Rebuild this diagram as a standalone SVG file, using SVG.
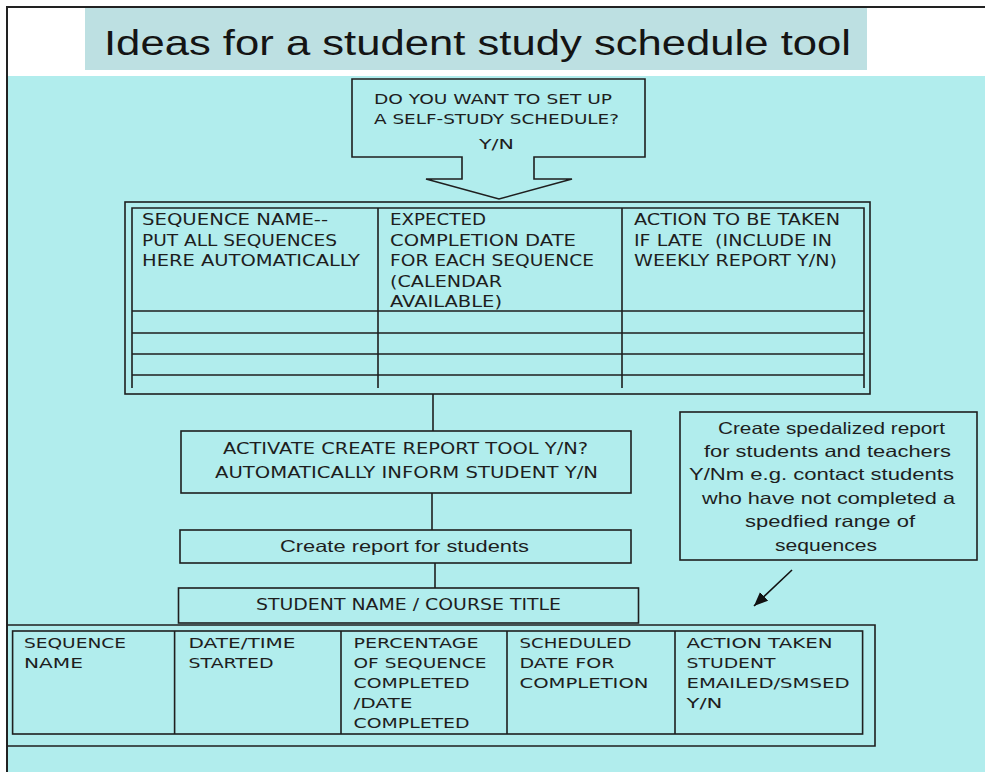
<svg xmlns="http://www.w3.org/2000/svg" width="985" height="772" viewBox="0 0 985 772">
<defs>
<style>
.ln{fill:none;stroke:#1f1f1f;stroke-width:1.6}
.bx{fill:none;stroke:#1f1f1f;stroke-width:1.6}
.cg{font-family:"DejaVu Sans","Liberation Sans",sans-serif;font-size:15px;fill:#1e1e1e}
.sm{font-size:14px}
.bt{font-size:14.5px}
.cb{font-family:"Liberation Sans","Open Sans",sans-serif;font-size:16.5px;fill:#1e1e1e}
.ttl{font-family:"Liberation Sans","Open Sans",sans-serif;font-size:35px;fill:#141414}
</style>
<marker id="ah" markerUnits="userSpaceOnUse" markerWidth="16" markerHeight="14" refX="14" refY="6" orient="auto">
<path d="M0,0 L14,6 L0,12 Z" fill="#111"/>
</marker>
</defs>
<rect x="0" y="0" width="985" height="772" fill="#ffffff"/>
<rect x="7" y="76" width="978" height="696" fill="#b1eded"/>
<path d="M7,772 V7 H985" fill="none" stroke="#222" stroke-width="2"/>
<g id="title">
<rect x="85" y="8" width="782" height="62" fill="#bde0e2"/>
<text class="ttl" x="104" y="55" textLength="747" lengthAdjust="spacingAndGlyphs">Ideas for a student study schedule tool</text>
</g>
<g id="connectors">
<line class="ln" x1="433" y1="394" x2="433" y2="431"/>
<line class="ln" x1="432" y1="493" x2="432" y2="530"/>
<line class="ln" x1="435" y1="563" x2="435" y2="588"/>
<line x1="792" y1="570" x2="754" y2="606" stroke="#111" stroke-width="1.6" marker-end="url(#ah)"/>
</g>
<g id="setup-question">
<path class="bx" d="M352,79 H645 V157 H534 V179 H572 L499,199 L426,179 H462 V157 H352 Z"/>
<text class="cg sm" x="374" y="104" textLength="238" lengthAdjust="spacingAndGlyphs">DO YOU WANT TO SET UP</text>
<text class="cg sm" x="374" y="124" textLength="245" lengthAdjust="spacingAndGlyphs">A SELF-STUDY SCHEDULE?</text>
<text class="cg sm" x="479" y="149" textLength="35" lengthAdjust="spacingAndGlyphs">Y/N</text>
</g>
<g id="sequence-table">
<rect class="bx" x="125" y="202" width="745" height="192"/>
<path class="bx" d="M132,388 V208 H864 V388 M378,208 V388 M622,208 V388 M132,311 H864 M132,333 H864 M132,354 H864 M132,375 H864"/>
<text class="cg" x="142" y="225" textLength="186" lengthAdjust="spacingAndGlyphs">SEQUENCE NAME--</text>
<text class="cg" x="142" y="245.5" textLength="195" lengthAdjust="spacingAndGlyphs">PUT ALL SEQUENCES</text>
<text class="cg" x="142" y="266" textLength="218" lengthAdjust="spacingAndGlyphs">HERE AUTOMATICALLY</text>
<text class="cg" x="390" y="225" textLength="96" lengthAdjust="spacingAndGlyphs">EXPECTED</text>
<text class="cg" x="390" y="245.5" textLength="186" lengthAdjust="spacingAndGlyphs">COMPLETION DATE</text>
<text class="cg" x="390" y="266" textLength="204" lengthAdjust="spacingAndGlyphs">FOR EACH SEQUENCE</text>
<text class="cg" x="390" y="286.5" textLength="112" lengthAdjust="spacingAndGlyphs">(CALENDAR</text>
<text class="cg" x="390" y="307" textLength="112" lengthAdjust="spacingAndGlyphs">AVAILABLE)</text>
<text class="cg" x="634" y="225" textLength="206" lengthAdjust="spacingAndGlyphs">ACTION TO BE TAKEN</text>
<text class="cg" x="634" y="245.5" textLength="198" lengthAdjust="spacingAndGlyphs" xml:space="preserve">IF LATE  (INCLUDE IN</text>
<text class="cg" x="634" y="266" textLength="203" lengthAdjust="spacingAndGlyphs">WEEKLY REPORT Y/N)</text>
</g>
<g id="activate-report">
<rect class="bx" x="181" y="431" width="450" height="62"/>
<text class="cg" x="223" y="454" textLength="365" lengthAdjust="spacingAndGlyphs">ACTIVATE CREATE REPORT TOOL Y/N?</text>
<text class="cg" x="215" y="478" textLength="383" lengthAdjust="spacingAndGlyphs">AUTOMATICALLY INFORM STUDENT Y/N</text>
</g>
<g id="create-report">
<rect class="bx" x="180" y="530" width="451" height="33"/>
<text class="cb" x="280" y="552" textLength="249" lengthAdjust="spacingAndGlyphs">Create report for students</text>
</g>
<g id="student-name">
<rect class="bx" x="178.5" y="588" width="460" height="35"/>
<text class="cg" x="256" y="609.5" textLength="305" lengthAdjust="spacingAndGlyphs">STUDENT NAME / COURSE TITLE</text>
</g>
<g id="specialized-report">
<rect class="bx" x="680" y="412" width="297" height="148"/>
<text class="cb" x="718" y="434" textLength="227" lengthAdjust="spacingAndGlyphs">Create spedalized report</text>
<text class="cb" x="704" y="457" textLength="247" lengthAdjust="spacingAndGlyphs">for students and teachers</text>
<text class="cb" x="689" y="480" textLength="265" lengthAdjust="spacingAndGlyphs">Y/Nm e.g. contact students</text>
<text class="cb" x="702" y="504" textLength="253" lengthAdjust="spacingAndGlyphs">who have not completed a</text>
<text class="cb" x="745" y="527" textLength="170" lengthAdjust="spacingAndGlyphs">spedfied range of</text>
<text class="cb" x="775" y="551" textLength="102" lengthAdjust="spacingAndGlyphs">sequences</text>
</g>
<g id="progress-table">
<path class="bx" d="M7.5,625 H875 V746 H7.5"/>
<rect class="bx" x="12.6" y="631" width="850" height="103"/>
<path class="bx" d="M174.6,631 V734 M341,631 V734 M507,631 V734 M675,631 V734"/>
<text class="cg bt" x="24" y="648" textLength="102" lengthAdjust="spacingAndGlyphs">SEQUENCE</text>
<text class="cg bt" x="24" y="668" textLength="59" lengthAdjust="spacingAndGlyphs">NAME</text>
<text class="cg bt" x="188.5" y="648" textLength="107" lengthAdjust="spacingAndGlyphs">DATE/TIME</text>
<text class="cg bt" x="188.5" y="668" textLength="85" lengthAdjust="spacingAndGlyphs">STARTED</text>
<text class="cg bt" x="353.5" y="648" textLength="125" lengthAdjust="spacingAndGlyphs">PERCENTAGE</text>
<text class="cg bt" x="353.5" y="668" textLength="133" lengthAdjust="spacingAndGlyphs">OF SEQUENCE</text>
<text class="cg bt" x="353.5" y="688" textLength="116" lengthAdjust="spacingAndGlyphs">COMPLETED</text>
<text class="cg bt" x="353.5" y="708" textLength="59" lengthAdjust="spacingAndGlyphs">/DATE</text>
<text class="cg bt" x="353.5" y="728" textLength="116" lengthAdjust="spacingAndGlyphs">COMPLETED</text>
<text class="cg bt" x="519.5" y="648" textLength="112" lengthAdjust="spacingAndGlyphs">SCHEDULED</text>
<text class="cg bt" x="519.5" y="668" textLength="95" lengthAdjust="spacingAndGlyphs">DATE FOR</text>
<text class="cg bt" x="519.5" y="688" textLength="129" lengthAdjust="spacingAndGlyphs">COMPLETION</text>
<text class="cg bt" x="686.5" y="648" textLength="146" lengthAdjust="spacingAndGlyphs">ACTION TAKEN</text>
<text class="cg bt" x="686.5" y="668" textLength="89" lengthAdjust="spacingAndGlyphs">STUDENT</text>
<text class="cg bt" x="686.5" y="688" textLength="163" lengthAdjust="spacingAndGlyphs">EMAILED/SMSED</text>
<text class="cg bt" x="686.5" y="708" textLength="36" lengthAdjust="spacingAndGlyphs">Y/N</text>
</g>
</svg>
